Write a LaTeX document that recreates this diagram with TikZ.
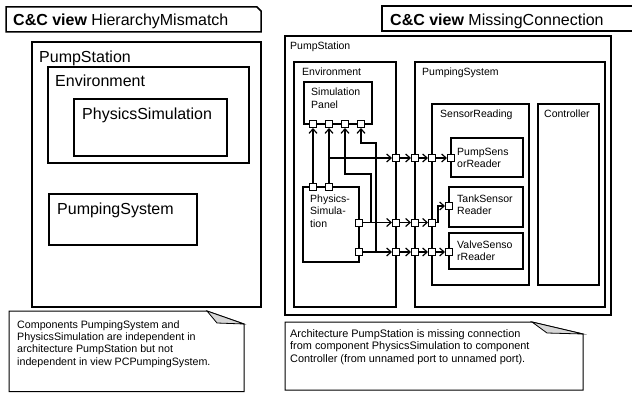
\documentclass[tikz,border=0pt]{standalone}
\usepackage{fontspec}
\setmainfont{Liberation Sans}
\usetikzlibrary{arrows.meta}

\begin{document}
\begin{tikzpicture}[x=1pt,y=-1pt,
		>={Straight Barb[length=4.5pt,width=8pt]},
		lbox/.style={line width=1.8pt},
		rbox/.style={line width=1.3pt},
		tab/.style={line width=1.5pt},
		port/.style={draw,fill=white,line width=1pt,minimum size=7pt,inner sep=0pt},
		conn/.style={line width=1.2pt,->},
		big/.style={anchor=base west,inner sep=0pt,font=\fontsize{16}{19}\selectfont},
		small/.style={anchor=base west,inner sep=0pt,font=\fontsize{10.5}{12.5}\selectfont},
		multi/.style={anchor=north west,inner sep=0pt,align=left,font=\fontsize{10.5}{12.5}\selectfont},
		notebox/.style={line width=1pt,fill=white}]
		%%% Colores
		\definecolor{foldgray}{RGB}{215,215,215} % gris claro
		\useasboundingbox (0,0) rectangle (632,393);
		\clip (0,0) rectangle (632,393);

		%%% Cabeceras (vistas C&C)
		\draw[tab] (6,7) -- (257,7) -- (261,11) -- (261,32) -- (6,32) -- cycle;
		\node[big] (ttlL) at (13,26) {\textbf{C\&C view} HierarchyMismatch};
		\draw[tab] (382,6) rectangle (640,31);
		\node[big] (ttlR) at (390,26) {\textbf{C\&C view} MissingConnection};

		%%% Vista izquierda
		\draw[lbox] (32,42) rectangle (261,307);
		\node[big] (lPS) at (39,62.5) {PumpStation};
		\draw[lbox] (48,67) rectangle (249,163);
		\node[big] (lEnv) at (55,87) {Environment};
		\draw[lbox] (74,99) rectangle (227,156);
		\node[big] (lPhy) at (82,119.5) {PhysicsSimulation};
		\draw[lbox] (49,194) rectangle (197,245);
		\node[big] (lPump) at (57,214) {PumpingSystem};

		% Nota
		\draw[notebox] (9,311) -- (207,311) -- (244,324) -- (244,391.5) -- (9,391.5) -- cycle;
		\draw[fill=foldgray,line width=0.8pt] (207,311) -- (217,323) -- (244,324) -- cycle;
		\node[multi,font=\fontsize{10.7}{12.4}\selectfont] (lNote) at (17,319.3)
			{\strut Components PumpingSystem and\\PhysicsSimulation are independent in\\architecture PumpStation but not\\independent in view PCPumpingSystem.};

		%%% Vista derecha: componentes
		\draw[rbox] (285,36) rectangle (611,315);
		\node[small] (rPS) at (290,49.5) {PumpStation};
		\draw[rbox] (294,62) rectangle (396,307);
		\node[small] (rEnv) at (302,76) {Environment};
		\draw[rbox] (415,62) rectangle (605,307);
		\node[small] (rPump) at (422,76) {PumpingSystem};
		\draw[rbox] (304,82) rectangle (372,124);
		\node[multi] (rPanel) at (311,86.75) {\strut Simulation\\Panel};
		\draw[rbox] (303,187) rectangle (359,262);
		\node[multi] (rPhy) at (310,193.25) {\strut Physics-\\Simula-\\tion};
		\draw[rbox] (432,104) rectangle (529,285);
		\node[small] (rSR) at (440,118) {SensorReading};
		\draw[rbox] (538,104) rectangle (599,285);
		\node[small] (rCtrl) at (544,118) {Controller};

		% Lectores de sensores
		\draw[rbox] (451,138) rectangle (523,177);
		\node[multi] (rPumpR) at (457,146.25) {\strut PumpSens\\orReader};
		\draw[rbox] (449,187) rectangle (523,227);
		\node[multi] (rTankR) at (457,193.25) {\strut TankSensor\\Reader};
		\draw[rbox] (449,233) rectangle (523,269);
		\node[multi] (rValveR) at (457,239.25) {\strut ValveSenso\\rReader};

		%%% Puertos
		\foreach \i/\x in {1/313,2/329,3/345,4/361} {
			\node[port] (sp\i) at (\x,124) {};
		}
		\node[port] (pt1) at (313,187) {};
		\node[port] (pt2) at (329,187) {};
		\node[port] (pr1) at (359,222.5) {};
		\node[port] (pr2) at (359,252) {};
		\node[port] (rp1) at (451,158) {};
		\node[port] (rp2) at (449,206) {};
		\node[port] (rp3) at (449,252) {};

		% Filas de puertos en los bordes: Environment -> PumpingSystem -> SensorReading
		\foreach \i/\y in {1/158,2/222.5,3/252} {
			\node[port] (er\i) at (396,\y) {};
			\node[port] (pl\i) at (415,\y) {};
			\node[port] (sl\i) at (432,\y) {};
			\draw[conn] (er\i) -- (pl\i);
			\draw[conn] (pl\i) -- (sl\i);
		}

		%%% Conectores
		\coordinate (b3) at (371,174);
		\coordinate (b4) at (376,143);
		\draw[conn] (pt1) -- (sp1);
		\draw[conn] (pt2) -- (sp2);
		\draw[conn] (pt2 |- er1) -- (er1);
		\draw[conn] (pr1) -| (b3) -| (sp3);
		\draw[conn] (pr2) -| (b4) -| (sp4);
		\draw[conn] (pr1) -- (er2);
		\draw[conn] (pr2) -- (er3);
		\draw[conn] (sl1) -- (rp1);
		\draw[conn] (sl2.east) -- ++(2,0) |- (rp2);
		\draw[conn] (sl3) -- (rp3);

		%%% Nota derecha
		\draw[notebox] (285,322) -- (532,322) -- (583,334) -- (583,390) -- (285,390) -- cycle;
		\draw[fill=foldgray,line width=0.8pt] (532,322) -- (547,333) -- (583,334) -- cycle;
		\node[multi,font=\fontsize{10.9}{12.5}\selectfont] (rNote) at (290,328.25)
			{\strut Architecture PumpStation is missing connection\\from component PhysicsSimulation to component\\Controller (from unnamed port to unnamed port).};
	\end{tikzpicture}
\end{document}
